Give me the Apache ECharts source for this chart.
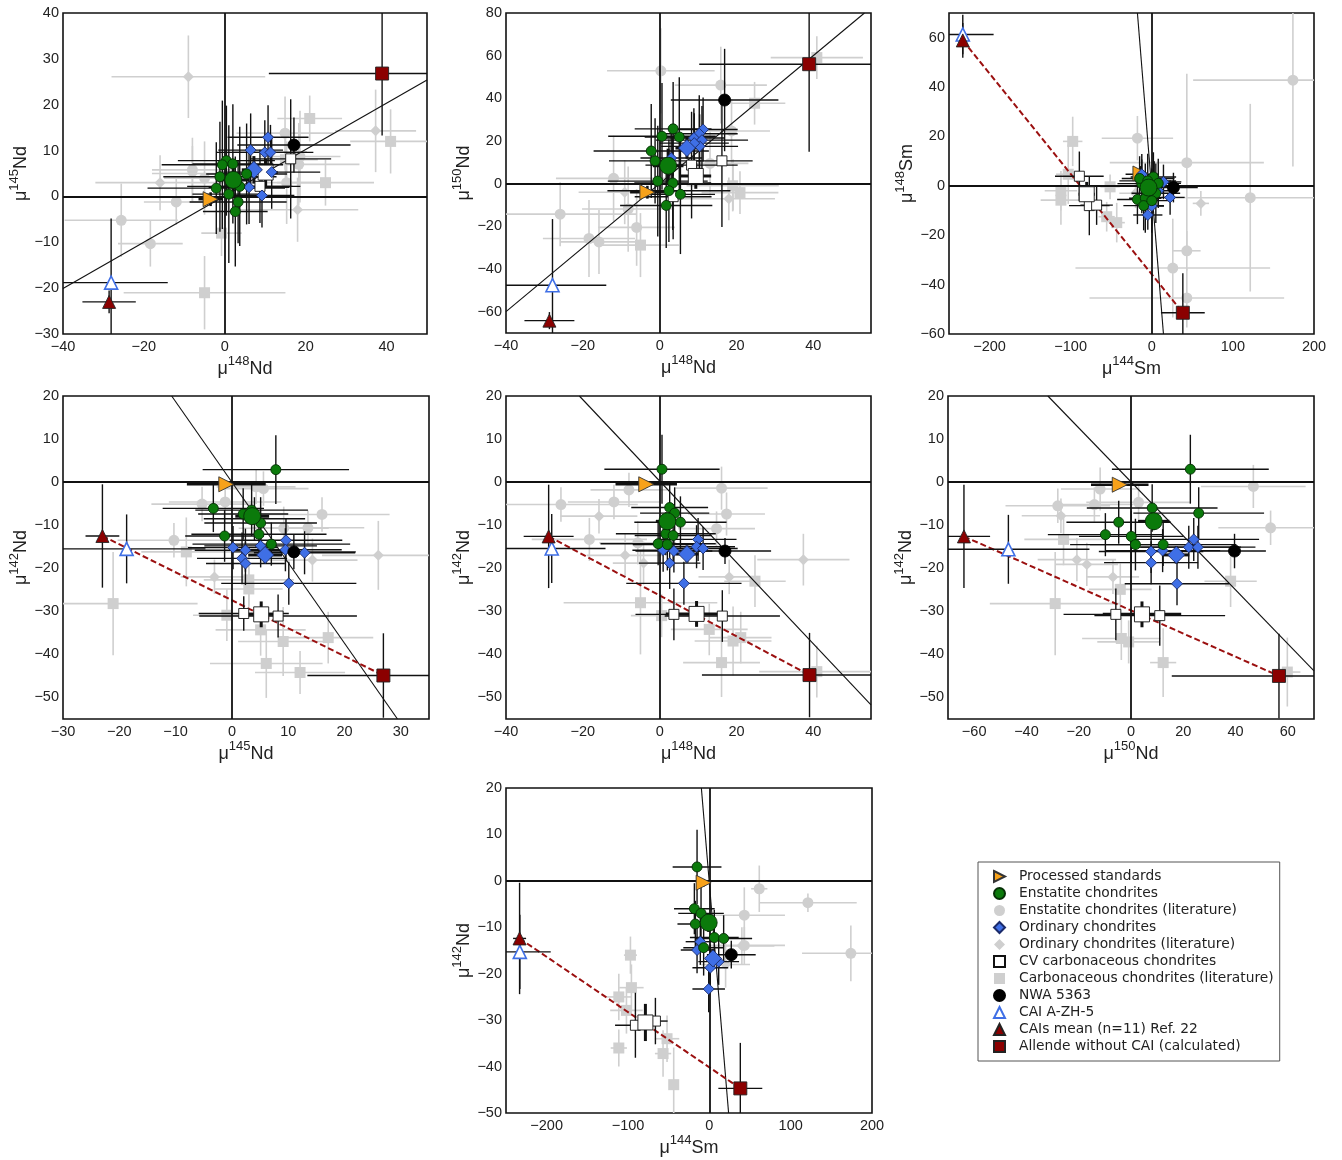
<!DOCTYPE html>
<html>
<head>
<meta charset="utf-8">
<script src="https://cdn.jsdelivr.net/npm/echarts@6/dist/echarts.min.js"></script>
<style>html,body{margin:0;padding:0;background:#fff}#c{width:1342px;height:1160px}</style>
</head>
<body>
<div id="c"></div>
<script>
// ---- Axis definitions per panel (1..7) ----
const X_ISO = [['148','Nd'],['148','Nd'],['144','Sm'],['145','Nd'],['148','Nd'],['150','Nd'],['144','Sm']];
const Y_ISO = [['145','Nd'],['150','Nd'],['148','Sm'],['142','Nd'],['142','Nd'],['142','Nd'],['142','Nd']];
const X_RANGE = [[-40,50],[-40,55],[-250,200],[-30,35],[-40,55],[-70,70],[-250,200]];
const Y_RANGE = [[-30,40],[-70,80],[-60,70],[-55,20],[-55,20],[-55,20],[-50,20]];
const X_TICKS = [[-40,-20,0,20,40],[-40,-20,0,20,40],[-200,-100,0,100,200],[-30,-20,-10,0,10,20,30],[-40,-20,0,20,40],[-60,-40,-20,0,20,40,60],[-200,-100,0,100,200]];
const Y_TICKS = [[-30,-20,-10,0,10,20,30,40],[-60,-40,-20,0,20,40,60,80],[-60,-40,-20,0,20,40,60],[-50,-40,-30,-20,-10,0,10,20],[-50,-40,-30,-20,-10,0,10,20],[-50,-40,-30,-20,-10,0,10,20],[-50,-40,-30,-20,-10,0,10,20]];

// ---- Data: per series, one list per panel; each point [x, y, xErr, yErr] ----
const STD = [
  [[-3.5,-0.6,3,1.5]], [[-3.2,-4.0,4.5,3]], [[-14,5,6,3]], [[-1.0,-0.5,7,0.8]],
  [[-3.5,-0.5,8,0.8]], [[-4.3,-0.6,11,0.8]], [[-7,-0.4,6,0.8]]
];
const EC = [
  [[0.4,7.8,12,12],[2.0,7.1,10,13],[-0.6,6.9,15,14],[-1.2,4.3,14,12],[-2.1,1.8,17,10],[3.3,-1.2,12,9],[2.6,-3.3,8,12],[5.4,4.9,10,11],[3.7,2.2,13,13],[1.0,0.5,9,15]],
  [[3.5,25.7,10,22],[0.6,22.2,14,25],[5.1,21.9,9,28],[-2.2,15.3,15,22],[-1.2,10.7,12,20],[-0.5,1.2,13,26],[3.4,0.3,10,22],[2.4,-3.3,16,24],[5.4,-5.0,9,28],[1.7,-10.2,12,20]],
  [[-17.7,-5.5,25,10],[-12.3,0.9,30,12],[2,3.6,28,10],[-8,-5,20,14],[-15,3,22,9],[-5,2,35,11],[5,-3,30,12],[-10,-8,25,10],[0,-6,22,13],[8,1,28,10]],
  [[7.8,2.9,13,8],[-3.3,-6.1,9,5.5],[2.0,-7.4,8,6],[5.1,-9.5,10,6],[4.8,-12.1,12,5],[-1.3,-12.5,7,6],[7.0,-14.4,14,5],[3.5,-6.5,10,6],[4,-8.5,9,5]],
  [[0.6,3.0,15,8],[2.6,-5.9,10,5.5],[3.9,-7.2,9,6],[5.4,-9.3,12,6],[1.6,-12.0,13,5],[3.5,-12.4,10,6],[-0.4,-14.3,15,5],[2.0,-14.5,9,6]],
  [[22.7,3.0,30,8],[8.1,-6.0,25,5.5],[25.9,-7.2,25,6],[-4.7,-9.3,20,5],[-9.8,-12.2,22,5],[0.1,-12.6,20,6],[1.7,-14.5,25,6],[12.3,-14.5,28,5]],
  [[-15.1,3.0,30,8],[-18.4,-6.0,25,5.5],[-10.2,-7.0,28,6],[-17.2,-9.3,22,5],[6.1,-12.2,30,6],[17.6,-12.4,35,5],[-7.0,-14.4,25,6]]
];
const EC_MEAN = [
  [[2.1,3.6,4,4]], [[2.2,8.4,4,8]], [[-4,-0.7,8,4]], [[3.6,-7.9,3,2]],
  [[2.0,-9.1,3,2]], [[8.7,-9.1,6,2]], [[-0.8,-9.0,6,2]]
];
const EC_LIT = [
  [[-25.6,-5.2,14,8],[-18.4,-10.3,8,5],[-12.0,-1.2,8,5],[-8.0,5.8,10,7],[14.9,13.8,12,8],[18.6,8.7,10,10],[18.3,7.0,15,9],[15.3,3.0,10,9],[-5,4,10,8]],
  [[0.3,52.9,14,20],[15.9,46.2,12,18],[18.7,24.7,10,15],[-12.0,2.5,15,20],[-25.9,-14.3,20,15],[-18.4,-25.7,12,18],[-15.8,-27.3,10,15],[-8.2,-11.9,12,20],[-6.0,-20.5,10,18],[13.1,9.5,10,15]],
  [[174,42.8,123,35],[43.2,9.4,95,36],[-17.7,19.3,44,9],[121.4,-4.8,80,38],[43.2,-26.3,17,8],[25.9,-33.3,120,20],[43.2,-45.4,120,12]],
  [[-10.3,-13.5,10,4],[-5.3,-5.1,9,4],[-1.2,-4.6,10,5],[5.6,-1.5,8,4],[4.3,-1.1,7,4],[16.0,-7.5,12,4],[13.5,-10.6,10,4],[9.2,-10.7,8,5]],
  [[-25.7,-5.2,20,4],[-18.3,-13.3,15,5],[-11.9,-4.6,12,4],[-8.0,-1.8,10,4],[-5.7,-14.1,10,5],[16.1,-1.4,12,5],[17.4,-7.4,10,5],[14.8,-10.8,10,4]],
  [[-11.8,-1.6,15,5],[-14.0,-5.2,15,4],[2.9,-4.7,20,4],[46.8,-1.0,20,5],[53.4,-10.6,20,4],[-28,-5.5,20,4]],
  [[61.4,-1.7,10,5],[121.2,-4.7,60,2],[43.0,-7.4,50,6],[174.0,-15.6,60,6],[43.0,-13.9,50,4]]
];
const OC = [
  [[10.7,12.9,10,7],[6.4,10.1,8,8],[9.9,9.6,12,7],[11.3,9.6,9,6],[6.0,2.0,10,8],[9.2,0.2,8,7],[11.6,5.3,12,8]],
  [[11.3,25.4,9,15],[10.3,23.4,10,18],[8.9,21.4,8,14],[11.0,20.4,12,16],[10.4,17.5,10,15],[3,12,8,16],[9,19,9,14]],
  [[-12.3,4.7,20,6],[22.6,-4.7,18,7],[0,-8.2,15,8],[-4.9,-11.8,18,6],[14.4,1.6,22,7],[8,-2,20,6],[3,3,25,7]],
  [[0.2,-15.2,8,5],[2.4,-15.8,9,5],[1.8,-17.7,8,6],[2.4,-18.9,7,5],[9.6,-13.5,10,5],[9.5,-15.7,10,5],[12.9,-16.4,9,5],[10.1,-23.5,12,5],[5.1,-14.8,10,5]],
  [[0.9,-15.8,8,5],[3.7,-16.0,10,5],[2.6,-18.8,8,6],[6.3,-23.5,15,5],[10.0,-13.3,10,5],[9.6,-15.0,10,5],[11.3,-15.4,9,5]],
  [[7.7,-16.1,20,5],[7.7,-18.7,18,5],[12.1,-15.9,22,5],[17.6,-23.6,20,5],[24.0,-13.3,25,5],[22.1,-15.1,20,5],[25.6,-15.1,22,5]],
  [[-15.1,-14.9,20,5],[-11.1,-13.1,18,5],[1.2,-18.7,22,5],[-0.8,-23.3,20,5],[11.5,-17.4,25,5]]
];
const OC_MEAN = [
  [[7.2,5.8,3,3]], [[7.1,16.7,3,5]], [[-3,-1,6,3]], [[5.9,-16.9,3,2]],
  [[7.1,-16.7,3,2]], [[17.3,-16.9,5,2]], [[4.5,-16.7,6,2]]
];
const OC_LIT = [
  [[-9.0,26.1,19,9],[-16.0,3.0,16,6],[37.3,14.3,10,9],[18.0,-2.9,15,7],[-8,5,10,6]],
  [[-9.1,-4.0,12,15],[18.0,-7.1,12,10],[19.1,-0.6,10,12]],
  [[60.5,-7.1,10,5],[-20,-3,20,6]],
  [[26.0,-17.0,10,8],[-3.1,-22.0,6,4],[14.3,-18.1,8,5]],
  [[-15.8,-7.9,10,4],[-9.0,-17.0,10,5],[-4.2,-18.8,8,5],[37.4,-18.0,12,6],[18.1,-22.0,8,4]],
  [[-26.8,-7.8,15,4],[-20.7,-18.0,15,5],[-16.9,-19.1,12,5],[-6.9,-22.0,10,4]],
  [[40,-14,40,4],[20,-18,30,5]]
];
const CV = [
  [[8.7,2.2,10,8],[16.3,8.2,10,13]],
  [[16.2,10.7,8,31],[3.5,-6.1,10,20],[8.3,8.7,12,25]],
  [[-89.3,3.9,30,10],[-77,-8,25,12],[-68,-7.8,20,8]],
  [[2.1,-30.5,8,4],[8.2,-31.1,14,5]],
  [[3.7,-30.7,10,6],[16.3,-31.1,15,6]],
  [[-5.8,-30.7,20,6],[11.0,-31.0,25,7]],
  [[-90.9,-31.1,25,7],[-66.3,-30.2,15,5]]
];
const CV_MEAN = [
  [[10.1,5.2,3,3]], [[9.4,3.6,4,6]], [[-80.2,-3.4,10,5]], [[5.2,-30.7,3,3]],
  [[9.6,-30.6,8,3]], [[4.2,-30.7,15,3]], [[-78.6,-30.5,10,4]]
];
const CC_LIT = [
  [[21.0,17.0,8,5],[24.9,3.0,12,5],[41.0,12.0,10,7],[-5.0,-21.0,20,8],[-0.8,-8.0,5,5],[15,8,8,6]],
  [[40.9,59.1,12,10],[24.7,37.7,8,10],[20.9,-4.2,10,10],[-5.0,-28.8,10,15],[19,-1,12,12]],
  [[-97.5,18,12,10],[-103,4.7,15,12],[-112,-2,20,8],[-112,-5.8,25,10],[-55.6,-12.5,10,6],[-43.2,-14.9,10,8],[-51.4,-0.4,12,5]],
  [[-21.1,-28.2,15,12],[-8.1,-16.2,8,8],[3.0,-22.7,8,6],[3.0,-24.8,6,5],[5.1,-34.3,8,6],[6.1,-42.1,10,8],[9.1,-37.0,8,8],[12.1,-44.2,8,5],[17.1,-36.1,8,6],[-0.9,-30.9,6,6]],
  [[-5.0,-28.0,20,12],[24.8,-23.0,8,6],[12.9,-34.2,10,6],[19.1,-36.9,10,8],[21.1,-36.1,8,6],[16.1,-41.9,10,8],[40.9,-44.0,15,6],[0.5,-31,8,5]],
  [[-29.0,-28.2,25,12],[-25.8,-13.3,15,6],[-4.1,-24.9,12,6],[-3.7,-36.3,15,5],[-0.9,-37.1,12,5],[12.3,-41.9,5,8],[38.1,-23.0,10,6],[59.8,-44.1,5,8]],
  [[-97.0,-16.0,8,4],[-95.8,-23.0,15,5],[-111.3,-25.0,15,5],[-101.9,-27.9,20,5],[-111.3,-36.0,10,4],[-56.9,-37.2,10,5],[-52.0,-34.0,15,5],[-43.8,-43.9,5,8]]
];
const NWA = [
  [[17.1,11.2,14,6]], [[16.9,39.2,14,24]], [[26.7,-0.7,30,6]], [[11.0,-16.2,11,4]],
  [[17.0,-16.0,12,3]], [[39.6,-16.0,12,4]], [[27.0,-15.9,30,3]]
];
const CAI_AZH5 = [
  [[-28.1,-18.8,14,14]], [[-27.9,-47.6,14,31]], [[-233,61.3,38,8]], [[-18.7,-15.5,14,8]],
  [[-28.1,-15.4,14,8]], [[-46.9,-15.6,31,8]], [[-233,-15.3,38,8]]
];
const CAI_MEAN = [
  [[-28.6,-23.0,6.6,2.5]], [[-28.7,-64.2,6.5,4]], [[-233,58.9,8,7]], [[-23.0,-12.5,3,12]],
  [[-28.9,-12.6,6.5,12]], [[-63.9,-12.6,10,12]], [[-233.3,-12.4,8,12]]
];
const ALLENDE = [
  [[38.9,26.8,28,13.5]], [[38.9,56.0,28.6,41]], [[38.3,-51.4,27,16]], [[26.9,-44.9,13.5,9.8]],
  [[39.0,-44.8,28,9.8]], [[56.6,-45.0,41,9.8]], [[38.1,-44.7,27,9.8]]
];
// best-fit lines (end points) and whether the CAI–Allende mixing line is drawn
const FIT_LINES = [
  [[-40,-20.1],[50,25.4]], [[-40,-60],[53.3,80]], [[-17.7,70],[14.4,-60]], [[-10.7,20],[29.4,-55]],
  [[-20.9,20],[55,-51.7]], [[-31.8,20],[70,-43.8]], [[-9.8,20],[23.7,-50]]
];
const MIX_SHOWN = [false,false,true,true,true,true,true];

// ---- Layout (pixels) ----
const GRIDS = [[63,13,364,321],[506,13,365,320],[949,13,365,321],[63,396,366,323],[506,396,365,323],[948,396,366,323],[506,788,366,325]];

const GRAY = '#cfcfcf';
const GROUPS = [
  {name:'Enstatite chondrites (literature)', data:EC_LIT, symbol:'circle', size:11, color:GRAY, border:null, err:GRAY, ew:1.6, lit:true},
  {name:'Ordinary chondrites (literature)', data:OC_LIT, symbol:'diamond', size:11, color:GRAY, border:null, err:GRAY, ew:1.6, lit:true},
  {name:'Carbonaceous chondrites (literature)', data:CC_LIT, symbol:'rect', size:11, color:GRAY, border:null, err:GRAY, ew:1.6, lit:true},
  {name:'Processed standards', data:STD, symbol:'triangle', rotate:-90, size:15, color:'#f7a21b', border:'#333', err:'#111', ew:2.5},
  {name:'CV carbonaceous chondrites', data:CV, symbol:'rect', size:10, color:'#ffffff', border:'#111', err:'#111', ew:1.4},
  {name:'CV mean', data:CV_MEAN, symbol:'rect', size:15, color:'#ffffff', border:'#111', err:'#111', ew:3},
  {name:'Ordinary chondrites', data:OC, symbol:'diamond', size:11, color:'#3f6fe6', border:'#1a2a6a', err:'#111', ew:1.4},
  {name:'OC mean', data:OC_MEAN, symbol:'diamond', size:17, color:'#3f6fe6', border:'#1a2a6a', err:'#111', ew:3},
  {name:'Enstatite chondrites', data:EC, symbol:'circle', size:10, color:'#0b7a0b', border:'#062f06', err:'#111', ew:1.4},
  {name:'EC mean', data:EC_MEAN, symbol:'circle', size:17, color:'#0b7a0b', border:'#062f06', err:'#111', ew:3},
  {name:'NWA 5363', data:NWA, symbol:'circle', size:12, color:'#000000', border:'#000', err:'#111', ew:1.4},
  {name:'CAI A-ZH-5', data:CAI_AZH5, symbol:'triangle', size:13, color:'#ffffff', border:'#3f6fe6', bw:1.6, err:'#111', ew:1.4},
  {name:'CAIs mean (n=11) Ref. 22', data:CAI_MEAN, symbol:'triangle', size:13, color:'#8b0000', border:'#222', err:'#111', ew:1.4},
  {name:'Allende without CAI (calculated)', data:ALLENDE, symbol:'rect', size:13, color:'#8b0000', border:'#222', err:'#111', ew:1.4}
];
const LEGEND_NAMES = ['Processed standards','Enstatite chondrites','Enstatite chondrites (literature)','Ordinary chondrites','Ordinary chondrites (literature)','CV carbonaceous chondrites','Carbonaceous chondrites (literature)','NWA 5363','CAI A-ZH-5','CAIs mean (n=11) Ref. 22','Allende without CAI (calculated)'];

const AXFONT = 'Liberation Sans, Arial, sans-serif';
const fmt = v => (v < 0 ? '\u2212' + Math.abs(v) : String(v));
const nameRich = {
  m: {fontSize:18, fontFamily:AXFONT, color:'#222', lineHeight:23, verticalAlign:'bottom'},
  s: {fontSize:13, fontFamily:AXFONT, color:'#222', lineHeight:13, verticalAlign:'top'}
};
const isoName = iso => '{m|\u03bc}{s|' + iso[0] + '}{m|' + iso[1] + '}';

function errRender(color, width) {
  return function (params, api) {
    const x = api.value(0), y = api.value(1), ex = api.value(2), ey = api.value(3);
    const a = api.coord([x - ex, y]), b = api.coord([x + ex, y]);
    const c = api.coord([x, y - ey]), d = api.coord([x, y + ey]);
    const style = {stroke: color, lineWidth: width};
    return {type:'group', children:[
      {type:'line', shape:{x1:a[0], y1:a[1], x2:b[0], y2:b[1]}, style},
      {type:'line', shape:{x1:c[0], y1:c[1], x2:d[0], y2:d[1]}, style}
    ]};
  };
}

const grid = [], xAxis = [], yAxis = [], series = [];
for (let i = 0; i < 7; i++) {
  const g = GRIDS[i];
  grid.push({left:g[0], top:g[1], width:g[2], height:g[3], show:true, borderColor:'#111', borderWidth:1.6, backgroundColor:'transparent'});
  xAxis.push({
    gridIndex:i, type:'value', min:X_RANGE[i][0], max:X_RANGE[i][1],
    axisLine:{show:false}, axisTick:{show:false}, splitLine:{show:false},
    axisLabel:{customValues:X_TICKS[i], formatter:fmt, color:'#222', fontSize:14.5, fontFamily:AXFONT, margin:5},
    name:isoName(X_ISO[i]), nameLocation:'middle', nameGap:21,
    nameTextStyle:{rich:nameRich}
  });
  yAxis.push({
    gridIndex:i, type:'value', min:Y_RANGE[i][0], max:Y_RANGE[i][1],
    axisLine:{show:false}, axisTick:{show:false}, splitLine:{show:false},
    axisLabel:{customValues:Y_TICKS[i], formatter:fmt, color:'#222', fontSize:14.5, fontFamily:AXFONT, margin:4},
    name:isoName(Y_ISO[i]), nameLocation:'middle', nameGap:31, nameRotate:90,
    nameTextStyle:{rich:nameRich}
  });
  // zero lines + best-fit line
  series.push({
    type:'line', xAxisIndex:i, yAxisIndex:i, data:FIT_LINES[i], symbol:'none', silent:true, z:3,
    lineStyle:{color:'#111', width:1.1}, clip:true,
    markLine:{silent:true, symbol:['none','none'], label:{show:false}, animation:false,
      lineStyle:{color:'#111', width:1.8, type:'solid'}, data:[{xAxis:0},{yAxis:0}]}
  });
  if (MIX_SHOWN[i]) {
    const c = CAI_MEAN[i][0], a = ALLENDE[i][0];
    series.push({type:'line', xAxisIndex:i, yAxisIndex:i, data:[[c[0],c[1]],[a[0],a[1]]], symbol:'none', silent:true, z:3,
      lineStyle:{color:'#9b1010', width:2, type:[6,3]}});
  }
  GROUPS.forEach(gr => {
    series.push({
      name:gr.name + ' err', type:'custom', coordinateSystem:'cartesian2d', xAxisIndex:i, yAxisIndex:i,
      data:gr.data[i], renderItem:errRender(gr.err, gr.ew), clip:true, silent:true, z:gr.lit ? 1 : 4,
      encode:{x:0, y:1}
    });
  });
  GROUPS.forEach(gr => {
    series.push({
      name:gr.name, type:'scatter', xAxisIndex:i, yAxisIndex:i,
      data:gr.data[i].map(p => [p[0], p[1]]), symbol:gr.symbol, symbolSize:gr.size,
      symbolRotate:gr.rotate || 0, z:gr.lit ? 2 : 5, clip:true,
      itemStyle:{color:gr.color, borderColor:gr.border || gr.color, borderWidth:gr.border ? (gr.bw || 0.9) : 0, opacity:1}
    });
  });
}

const legendData = LEGEND_NAMES.map(n => n === 'Processed standards'
  ? {name:n, icon:'path://M0,0L10,5L0,10Z'} : {name:n});

const chart = echarts.init(document.getElementById('c'), null, {renderer:'canvas'});
chart.setOption({
  animation:false,
  backgroundColor:'#ffffff',
  grid, xAxis, yAxis, series,
  legend:{
    data:legendData, orient:'vertical', left:978, top:862,
    itemWidth:11, itemHeight:11, itemGap:0, selectedMode:false,
    padding:[6,6,6,15], borderColor:'#555', borderWidth:1, backgroundColor:'#fff',
    textStyle:{fontFamily:'DejaVu Sans, sans-serif', fontSize:13.8, color:'#222', lineHeight:17, padding:[0,0,0,9]}
  }
});
</script>
</body>
</html>
